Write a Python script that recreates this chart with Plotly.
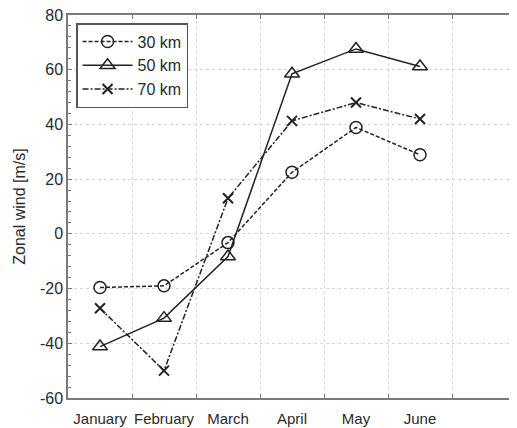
import plotly.graph_objects as go

months = ["January", "February", "March", "April", "May", "June"]
slots = months + [" "]
km30 = [-19.6, -19.0, -3.2, 22.5, 38.9, 28.9]
km50 = [-41.2, -30.8, -8.3, 58.5, 67.6, 61.2]
km70 = [-27.2, -50.0, 13.0, 41.3, 48.0, 42.0]
y_ticks = [-60, -40, -20, 0, 20, 40, 60, 80]
y_labels = ["-60", "-40", "-20", "0", "20", "40", "60", "80"]

FONT = "Liberation Sans, Arial, sans-serif"
ink = "#222222"
txt = "#2a2a2a"

fig = go.Figure()
fig.add_trace(go.Scatter(
    x=months, y=km30, name="30 km", mode="lines+markers",
    line=dict(color=ink, width=1.5, dash="4px,2px"),
    marker=dict(symbol="circle-open", size=12, color=ink, line=dict(width=1.5, color=ink)),
))
fig.add_trace(go.Scatter(
    x=months, y=km50, name="50 km", mode="lines+markers",
    line=dict(color=ink, width=1.5),
    marker=dict(symbol="triangle-up-open", size=13, color=ink, line=dict(width=1.5, color=ink)),
))
fig.add_trace(go.Scatter(
    x=months, y=km70, name="70 km", mode="lines+markers",
    line=dict(color=ink, width=1.5, dash="6px,2px,2px,2px"),
    marker=dict(symbol="x-thin-open", size=10, color=ink, line=dict(width=2, color=ink)),
))

fig.update_layout(
    width=509, height=420,
    margin=dict(l=60, r=1, t=7, b=30),
    paper_bgcolor="white", plot_bgcolor="white",
    font=dict(family=FONT, size=15, color=txt),
    showlegend=True,
    legend=dict(
        x=0.018, y=0.979, xanchor="left", yanchor="top",
        bgcolor="white", bordercolor="#555555", borderwidth=1.5,
        font=dict(size=16, color=txt), itemwidth=50,
        tracegroupgap=0,
    ),
)
fig.update_xaxes(
    type="category", categoryorder="array", categoryarray=slots,
    range=[-0.5, 6.5], tickson="boundaries", tickangle=0, automargin=False,
    ticklabelstandoff=6, ticklabeloverflow="allow",
    showgrid=True, gridcolor="#d6d6d6", griddash="dot", gridwidth=1,
    showline=True, linecolor="#7a7a7a", linewidth=1.5, mirror="ticks",
    ticks="inside", ticklen=4, tickcolor="#7a7a7a",
    tickfont=dict(size=15, color=txt), zeroline=False,
)
fig.update_yaxes(
    range=[-60, 80], tickvals=y_ticks, ticktext=y_labels, automargin=False,
    ticklabeloverflow="allow",
    showgrid=True, gridcolor="#d6d6d6", griddash="dot", gridwidth=1,
    showline=True, linecolor="#7a7a7a", linewidth=1.5, mirror="ticks",
    ticks="inside", ticklen=4, tickcolor="#7a7a7a",
    minor=dict(dtick=4, tick0=0, ticks="inside", ticklen=3, tickcolor="#7a7a7a", showgrid=False),
    tickfont=dict(size=16, color=txt), zeroline=False,
    title=dict(text="Zonal wind [m/s]", font=dict(size=16, color=txt), standoff=10),
)

fig.write_html("out.html")
